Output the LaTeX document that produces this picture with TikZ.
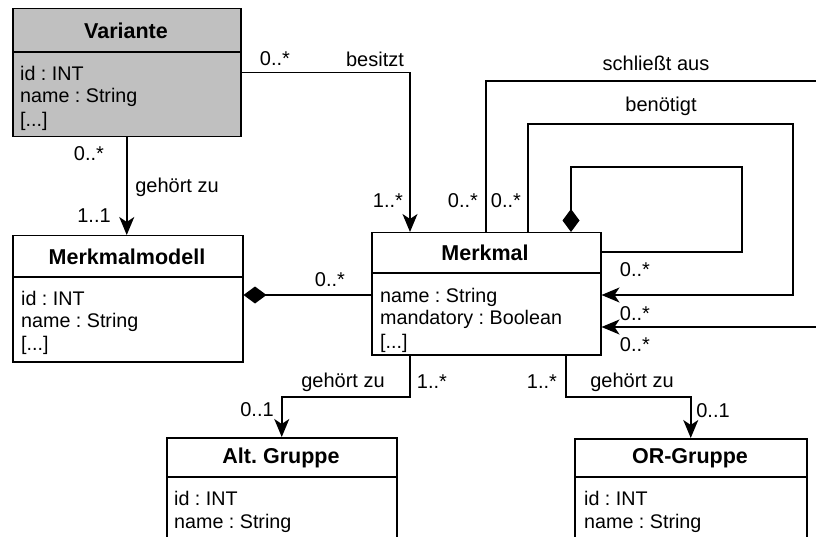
\documentclass[tikz,border=0pt]{standalone}
\usepackage{fontspec}
\setmainfont{Liberation Sans}
\usetikzlibrary{arrows.meta,calc}
\definecolor{boxgray}{RGB}{192,192,192}
\begin{document}
\frenchspacing
\begin{tikzpicture}[x=1pt,y=-1pt,
  umlbox/.style={draw=black,line width=1.5pt,rectangle,anchor=north west,inner sep=0pt},
  divline/.style={line width=1.5pt},
  ttl/.style={font=\fontsize{21.5}{24}\selectfont\bfseries,inner sep=0pt},
  attr/.style={font=\fontsize{19.7}{22}\selectfont,anchor=west,inner sep=0pt},
  lbl/.style={font=\fontsize{20}{22}\selectfont,inner sep=0pt},
  assoc/.style={line width=1.5pt,-{Stealth[length=18pt,width=15pt,inset=5pt]}},
  compo/.style={line width=1.5pt,{Diamond[length=23pt,width=17pt]}-},
]
\useasboundingbox (0,0) rectangle (816,537);
\clip (0,0) rectangle (816,537);
% Variante
\node[umlbox,fill=boxgray,minimum width=228pt,minimum height=128pt] (variante) at (12,8) {};
\draw[divline] (12,52) -- (240,52);
\node[ttl] (tvar) at (126,31) {Variante};
\node[attr] (v1) at (20,73) {id : INT};
\node[attr] (v2) at (20,97) {name : String};
\node[attr] (v3) at (20,121) {[...]};
% Merkmalmodell
\node[umlbox,minimum width=230pt,minimum height=126pt] (mmodell) at (12,235) {};
\draw[divline] (12,277) -- (242,277);
\node[ttl] (tmm) at (127,257) {Merkmalmodell};
\node[attr] (m1) at (21,298) {id : INT};
\node[attr] (m2) at (21,322) {name : String};
\node[attr] (m3) at (21,345) {[...]};
% Merkmal
\node[umlbox,minimum width=229pt,minimum height=122pt] (merkmal) at (371,232) {};
\draw[divline] (371,273) -- (600,273);
\node[ttl] (tmk) at (485,253) {Merkmal};
\node[attr] (k1) at (380,297) {name : String};
\node[attr] (k2) at (380,319) {mandatory : Boolean};
\node[attr] (k3) at (380,343) {[...]};
% Alt. Gruppe
\node[umlbox,minimum width=230pt,minimum height=140pt] (altg) at (166,437) {};
\draw[divline] (166,477) -- (396,477);
\node[ttl] (tag) at (281,458) {Alt. Gruppe};
\node[attr] (a1) at (174,498) {id : INT};
\node[attr] (a2) at (174,523) {name : String};
% OR-Gruppe
\node[umlbox,minimum width=232pt,minimum height=140pt] (org) at (574,438) {};
\draw[divline] (574,477) -- (806,477);
\node[ttl] (tog) at (690,458) {OR-Gruppe};
\node[attr] (o1) at (584,498) {id : INT};
\node[attr] (o2) at (584,523) {name : String};
% connectors
\draw[assoc] (variante.east) -| ([xshift=39pt]merkmal.north west);
\draw[assoc] (variante.south) -- (variante.south |- mmodell.north);
\draw[compo] (mmodell.east |- 0,295) -- (merkmal.west |- 0,295);
\draw[compo] ([xshift=200pt]merkmal.north west) |- (742,167) |- ([yshift=-20pt]merkmal.north east);
\draw[assoc] ([xshift=157pt]merkmal.north west) |- (793,124) |- (merkmal.east |- 0,295);
\draw[line width=1.5pt] ([xshift=115pt]merkmal.north west) |- (830,81);
\coordinate (offright) at (830,327);
\draw[assoc] (offright) -- (merkmal.east |- offright);
\draw[assoc] ([xshift=39pt]merkmal.south west) |- (altg.north |- 0,397) -- (altg.north);
\draw[assoc] ([xshift=195pt]merkmal.south west) |- (org.north |- 0,397) -- (org.north);
% labels
\node[lbl] at (275,59) {0..*};
\node[lbl] at (375,59) {besitzt};
\node[lbl] at (388,201) {1..*};
\node[lbl] at (89,154) {0..*};
\node[lbl] at (177,187) {gehört zu};
\node[lbl] at (94,216) {1..1};
\node[lbl] at (330,280) {0..*};
\node[lbl] at (463,201) {0..*};
\node[lbl] at (506,201) {0..*};
\node[lbl] at (656,63) {schließt aus};
\node[lbl] at (661,106) {benötigt};
\node[lbl] at (635,270) {0..*};
\node[lbl] at (635,314) {0..*};
\node[lbl] at (635,345) {0..*};
\node[lbl] at (343,382) {gehört zu};
\node[lbl] at (432,382) {1..*};
\node[lbl] at (257,410) {0..1};
\node[lbl] at (542,382) {1..*};
\node[lbl] at (632,382) {gehört zu};
\node[lbl] at (713,411) {0..1};
\end{tikzpicture}
\end{document}
